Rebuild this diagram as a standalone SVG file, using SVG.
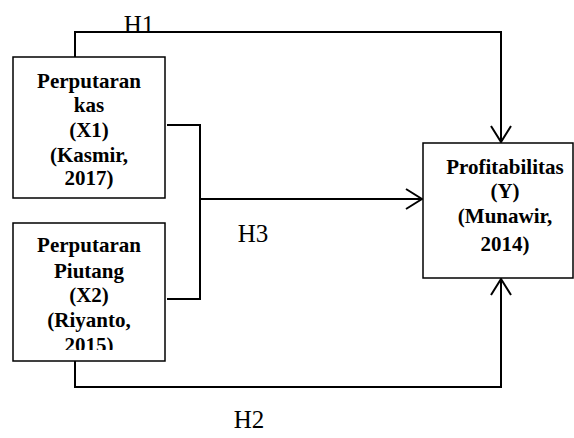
<svg xmlns="http://www.w3.org/2000/svg" width="574" height="438" viewBox="0 0 574 438">
<style>
.box{fill:#fff;stroke:#000;stroke-width:1.5}
.lbl{font-family:"Liberation Serif",serif;font-weight:bold;font-size:21px;text-anchor:middle;fill:#000}
.h{font-family:"Liberation Serif",serif;font-size:25px;text-anchor:middle;fill:#000}
.c{fill:none;stroke:#000;stroke-width:2}
</style>
<defs>
<marker id="arr" viewBox="0 0 20 24" refX="19" refY="12" markerWidth="20" markerHeight="24" markerUnits="userSpaceOnUse" orient="auto">
<path d="M3,2 L19,12 L3,22" fill="none" stroke="#000" stroke-width="2"/>
</marker>
<clipPath id="c2"><rect x="13" y="223" width="152" height="127"/></clipPath>
</defs>
<rect width="574" height="438" fill="#fff"/>
<g id="connectors">
<path class="c" d="M75,57 V32 H501 V142" marker-end="url(#arr)"/>
<path class="c" d="M75,361 V387 H501 V279" marker-end="url(#arr)"/>
<path class="c" d="M167,125 H200 V299 H167"/>
<path class="c" d="M200,199 H422" marker-end="url(#arr)"/>
</g>
<g id="x1">
<rect class="box" x="13" y="57" width="152" height="141"/>
<text class="lbl" x="89" y="88">Perputaran</text>
<text class="lbl" x="89" y="112">kas</text>
<text class="lbl" x="89" y="137">(X1)</text>
<text class="lbl" x="89" y="162">(Kasmir,</text>
<text class="lbl" x="89" y="185">2017)</text>
</g>
<g id="x2">
<rect class="box" x="13" y="223" width="152" height="138"/>
<g clip-path="url(#c2)">
<text class="lbl" x="89" y="252">Perputaran</text>
<text class="lbl" x="89" y="278">Piutang</text>
<text class="lbl" x="89" y="302">(X2)</text>
<text class="lbl" x="89" y="327">(Riyanto,</text>
<text class="lbl" x="89" y="352">2015)</text>
</g>
</g>
<g id="y">
<rect class="box" x="423" y="143" width="150" height="135"/>
<text class="lbl" x="505" y="174">Profitabilitas</text>
<text class="lbl" x="505" y="198">(Y)</text>
<text class="lbl" x="505" y="223">(Munawir,</text>
<text class="lbl" x="505" y="251">2014)</text>
</g>
<g id="labels">
<text class="h" x="139" y="33">H1</text>
<text class="h" x="253" y="242">H3</text>
<text class="h" x="249" y="428">H2</text>
</g>
</svg>
